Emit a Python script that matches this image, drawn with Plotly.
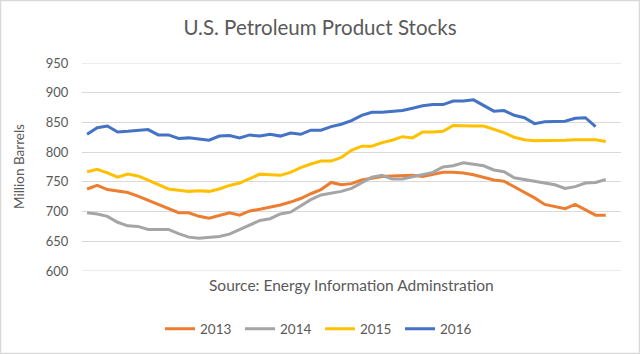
import plotly.graph_objects as go

weeks = list(range(1, 53))

s2013 = [738, 744, 737, 735, 732, 726, 719, 712, 706, 698, 698, 692, 689, 694, 698, 694,
         701, 704, 707, 711, 716, 722, 730, 737, 749, 745, 747, 753, 756, 759, 760, 761,
         761, 759, 762, 766, 766, 765, 762, 758, 753, 751, 742, 732, 723, 712, 708, 705,
         712, 703, 694, 694]
s2014 = [698, 696, 692, 682, 676, 675, 670, 670, 670, 663, 657, 655, 656, 658, 662, 670,
         677, 685, 688, 696, 699, 710, 720, 728, 731, 734, 739, 749, 758, 761, 755, 755,
         759, 763, 766, 775, 777, 782, 779, 777, 770, 767, 757, 754, 751, 748, 745, 739,
         742, 748, 749, 754]
s2015 = [767, 771, 765, 758, 763, 760, 753, 745, 738, 736, 734, 735, 734, 738, 744, 748,
         755, 763, 762, 761, 766, 774, 780, 785, 785, 791, 803, 810, 810, 816, 820, 826,
         824, 834, 834, 835, 845, 844, 844, 844, 838, 833, 825, 821, 819, 819, 820, 820,
         821, 821, 821, 818]
s2016 = [830, 841, 844, 834, 835, 836, 838, 829, 829, 823, 824, 822, 820, 827, 828, 824,
         829, 827, 830, 827, 832, 830, 837, 837, 843, 847, 853, 862, 867, 867, 868, 870,
         874, 878, 880, 880, 886, 886, 888, 879, 869, 870, 862, 858, 848, 851, 851, 852,
         857, 858, 843]

series_names = ["2013", "2014", "2015", "2016"]
series_values = [s2013, s2014, s2015, s2016]
colors = ["#ED7D31", "#A5A5A5", "#FFC000", "#4472C4"]

y_ticks = [600, 650, 700, 750, 800, 850, 900, 950]

FONT = "Lato"
GREY = "#595959"

fig = go.Figure()
for name, vals, col in zip(series_names, series_values, colors):
    fig.add_trace(go.Scatter(
        x=weeks[:len(vals)], y=vals, name=name, mode="lines",
        line=dict(color=col, width=3, shape="linear"),
    ))

L, R, T, B = 82, 19, 63, 83
W, H = 640, 354
pw, ph = W - L - R, H - T - B

fig.update_layout(
    width=W, height=H,
    margin=dict(l=L, r=R, t=T, b=B),
    paper_bgcolor="white", plot_bgcolor="white",
    title=dict(text="U.S. Petroleum Product Stocks", x=0.5, xref="container",
               xanchor="center", y=1 - 28 / H, yanchor="middle",
               font=dict(family=FONT, size=20.5, color=GREY)),
    font=dict(family=FONT, color=GREY),
    showlegend=True,
    legend=dict(orientation="h", xref="container", yref="container",
                x=0.5, xanchor="center", y=1 - 329 / H, yanchor="middle",
                font=dict(family=FONT, size=13.5, color=GREY),
                traceorder="normal", itemwidth=30,
                entrywidth=35, entrywidthmode="pixels"),
    xaxis=dict(range=[0.5, 53.5], showgrid=False, showticklabels=False,
               ticks="", zeroline=False, showline=False, fixedrange=True),
    yaxis=dict(range=[600, 950], tickvals=y_ticks, ticktext=[str(v) for v in y_ticks],
               showgrid=True, gridcolor="#D9D9D9", gridwidth=1, zeroline=False,
               showline=False, ticks="outside", ticklen=10, tickcolor="rgba(0,0,0,0)",
               tickfont=dict(family=FONT, size=13, color=GREY)),
    annotations=[
        dict(text="Million Barrels", xref="paper", yref="paper",
             x=-63 / pw, y=0.5, xanchor="center", yanchor="middle",
             textangle=-90, showarrow=False,
             font=dict(family=FONT, size=13.5, color=GREY)),
        dict(text="Source: Energy Information Adminstration", xref="paper", yref="paper",
             x=0.5, y=-(285 - (H - B)) / ph, xanchor="center", yanchor="middle",
             showarrow=False, font=dict(family=FONT, size=15.5, color=GREY)),
    ],
    shapes=[
        dict(type="line", xref="paper", yref="y", x0=0, x1=1, y0=600, y1=600,
             line=dict(color="#D9D9D9", width=1)),
        dict(type="line", xref="paper", yref="y", x0=0, x1=1, y0=950, y1=950,
             line=dict(color="#D9D9D9", width=1)),
        dict(type="rect", xref="paper", yref="paper",
             x0=-(L - 0.5) / pw, x1=1 + (R - 0.5) / pw,
             y0=-(B - 0.5) / ph, y1=1 + (T - 0.5) / ph,
             line=dict(color="#D9D9D9", width=1.5), layer="below"),
    ],
)

fig.write_html("out.html")
